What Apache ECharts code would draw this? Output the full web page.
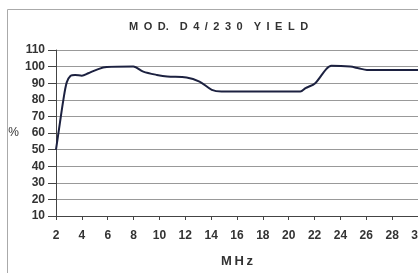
<!DOCTYPE html>
<html lang="en">
<head>
  <meta charset="UTF-8">
  <title>MOD. D4/230 YIELD</title>
  <script src="https://cdn.jsdelivr.net/npm/echarts@6/dist/echarts.min.js"></script>
  <style>
    html, body { margin: 0; padding: 0; background: #fff; }
    #chart { width: 418px; height: 273px; }
  </style>
</head>
<body>
  <div id="chart"></div>
  <script>
    // frequency (MHz) and yield (%)
    const freqs = [2, 2.3, 2.57, 2.83, 3.13, 3.47, 4, 4.5, 5.27, 5.92, 7.98, 8.75, 9.8, 10.6, 12.1, 13.1, 14.05, 14.8, 20.9, 21.3, 22.05, 22.9, 23.3, 24.75, 25.4, 26.05, 30];
    const yieldPct = [50, 66, 80, 90.5, 94.5, 95, 94.5, 96, 98.5, 99.7, 100, 97, 95, 94, 93.5, 91, 86, 85, 85, 87, 90, 98.5, 100.5, 100, 99, 98, 98];
    const yTicks = { min: 10, max: 110, step: 10 };
    const xTicks = { min: 2, max: 30, step: 2 };

    const myChart = echarts.init(document.getElementById('chart'));
    const labelFont = { fontFamily: 'Liberation Sans, Arial, sans-serif', fontWeight: 'bold', fontSize: 12, color: '#333' };
    const sp = '\u2002'; // en space, the title is letter-spaced

    myChart.setOption({
      animation: false,
      graphic: [{
        type: 'rect',
        shape: { x: 7.5, y: 9.5, width: 420, height: 270 },
        style: { fill: 'none', stroke: '#aaa', lineWidth: 1 },
        silent: true
      }],
      title: {
        text: ['M', 'O', 'D.' + sp + sp + 'D', '4', '/', '2', '3', '0' + sp + sp + 'Y', 'I', 'E', 'L', 'D'].join(sp),
        left: 124,
        top: 16,
        textStyle: { fontFamily: 'Liberation Sans, Arial, sans-serif', fontWeight: 'bold', fontSize: 11, color: '#333' }
      },
      grid: { left: 56, top: 50, right: 0, bottom: 57, outerBoundsMode: 'none' },
      xAxis: {
        type: 'value',
        min: xTicks.min,
        max: xTicks.max,
        interval: xTicks.step,
        name: 'M H z'.replace(/ /g, '\u2009'),
        nameLocation: 'middle',
        nameGap: 39,
        nameTextStyle: Object.assign({}, labelFont, { fontSize: 13 }),
        axisLine: { lineStyle: { color: '#444', width: 1 } },
        axisTick: { length: 4, lineStyle: { color: '#444' } },
        axisLabel: Object.assign({ margin: 14, showMaxLabel: true }, labelFont),
        splitLine: { show: false }
      },
      yAxis: {
        type: 'value',
        min: yTicks.min,
        max: yTicks.max,
        interval: yTicks.step,
        name: '%',
        nameLocation: 'middle',
        nameRotate: 0,
        nameGap: 37,
        nameTextStyle: Object.assign({}, labelFont, { fontWeight: 'normal', fontSize: 12 }),
        axisLine: { show: true, lineStyle: { color: '#444', width: 1 } },
        axisTick: { show: true, length: 8, lineStyle: { color: '#444' } },
        axisLabel: Object.assign({ margin: 11 }, labelFont),
        splitLine: { show: true, lineStyle: { color: '#999', width: 1 } }
      },
      series: [{
        type: 'line',
        data: freqs.map((f, i) => [f, yieldPct[i]]),
        smooth: 0.3,
        symbol: 'none',
        lineStyle: { color: '#1c2140', width: 2 }
      }]
    });
  </script>
</body>
</html>
